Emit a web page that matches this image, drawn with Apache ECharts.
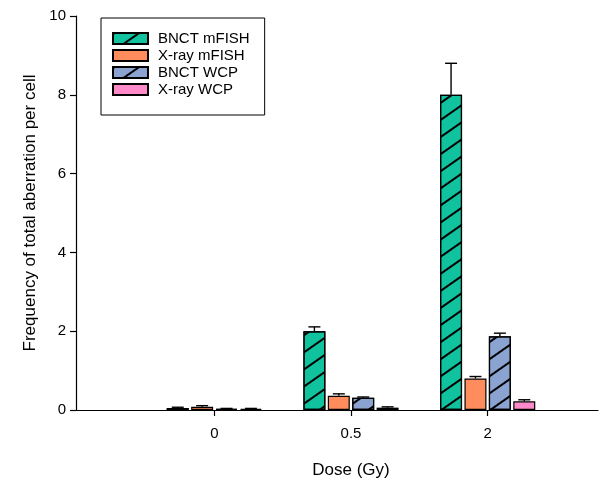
<!DOCTYPE html>
<html>
<head>
<meta charset="utf-8">
<script src="https://cdn.jsdelivr.net/npm/echarts@6/dist/echarts.min.js"></script>
<style>
  html, body { margin: 0; padding: 0; background: #fff; }
  #main { width: 614px; height: 480px; }
</style>
</head>
<body>
<div id="main"></div>
<script>
var doses = ['0', '0.5', '2'];
var seriesNames = ['BNCT mFISH', 'X-ray mFISH', 'BNCT WCP', 'X-ray WCP'];
var bnctMfish = [0.05, 2.0, 8.0];
var bnctMfishErr = [0.02, 0.11, 0.8];
var xrayMfish = [0.08, 0.36, 0.8];
var xrayMfishErr = [0.03, 0.05, 0.05];
var bnctWcp = [0.03, 0.31, 1.87];
var bnctWcpErr = [0.01, 0.02, 0.08];
var xrayWcp = [0.03, 0.06, 0.22];
var xrayWcpErr = [0.01, 0.02, 0.04];
var yTicks = [0, 2, 4, 6, 8, 10];

var values = [bnctMfish, xrayMfish, bnctWcp, xrayWcp];
var errors = [bnctMfishErr, xrayMfishErr, bnctWcpErr, xrayWcpErr];
var colors = ['#10c29e', '#ff8c5c', '#8aa3d1', '#ff8ac9'];
var hatched = [true, false, true, false];

var font = 'Arial, "Liberation Sans", sans-serif';
var barW = 22;
var barGapPx = 2.4;

var hatch = {
    symbol: 'rect',
    symbolSize: 1,
    color: '#000',
    dashArrayX: [1, 0],
    dashArrayY: [1.6, 12],
    rotation: -Math.PI * 35 / 180
};

var myChart = echarts.init(document.getElementById('main'), null, { renderer: 'canvas' });

var series = [];
values.forEach(function (vals, k) {
    var style = { color: colors[k], borderColor: '#000', borderWidth: 1.2 };
    if (hatched[k]) style.decal = hatch;
    series.push({
        name: seriesNames[k],
        type: 'bar',
        xAxisIndex: 1,
        yAxisIndex: 1,
        barWidth: barW,
        barGap: (barGapPx / barW * 100) + '%',
        itemStyle: style,
        data: vals
    });
});

// error bars (upper only)
var errData = [];
values.forEach(function (vals, k) {
    vals.forEach(function (v, i) {
        errData.push([i, v, errors[k][i], k]);
    });
});
series.push({
    type: 'custom',
    xAxisIndex: 1,
    yAxisIndex: 1,
    data: errData,
    z: 3,
    renderItem: function (params, api) {
        var k = api.value(3);
        var off = (k - 1.5) * (barW + barGapPx);
        var base = api.coord([api.value(0), api.value(1)]);
        var top = api.coord([api.value(0), api.value(1) + api.value(2)]);
        var x = base[0] + off;
        var st = { stroke: '#000', lineWidth: 1.4 };
        return {
            type: 'group',
            children: [
                { type: 'line', shape: { x1: x, y1: base[1], x2: x, y2: top[1] }, style: st },
                { type: 'line', shape: { x1: x - 6, y1: top[1], x2: x + 6, y2: top[1] }, style: st }
            ]
        };
    }
});

var option = {
    backgroundColor: '#fff',
    animation: false,
    legend: {
        orient: 'vertical',
        left: 101,
        top: 18,
        padding: [13, 15, 18, 11],
        icon: 'rect',
        itemWidth: 35,
        itemHeight: 11,
        itemGap: 2,
        borderColor: '#000',
        borderWidth: 1,
        borderRadius: 0,
        textStyle: { fontFamily: font, fontSize: 15, color: '#000', padding: [0, 0, 0, 5] },
        data: seriesNames
    },
    grid: [
        { left: 76, right: 16, top: 16, bottom: 70, outerBoundsMode: 'none' },
        { left: 146, right: 58, top: 16, bottom: 70, outerBoundsMode: 'none' }
    ],
    xAxis: [
        {
            gridIndex: 0,
            type: 'value',
            min: 0,
            max: 1,
            axisLine: { show: true, lineStyle: { color: '#000', width: 1.2 } },
            axisTick: { show: false },
            axisLabel: { show: false },
            splitLine: { show: false }
        },
        {
            gridIndex: 1,
            type: 'category',
            data: doses,
            axisLine: { show: false },
            axisTick: { show: true, alignWithLabel: true, length: 6, lineStyle: { color: '#000', width: 1.2 } },
            axisLabel: { fontFamily: font, fontSize: 15, color: '#000', margin: 16 },
            name: 'Dose (Gy)',
            nameLocation: 'middle',
            nameGap: 52,
            nameTextStyle: { fontFamily: font, fontSize: 17, color: '#000' }
        }
    ],
    yAxis: [
        {
            gridIndex: 0,
            type: 'value',
            min: 0,
            max: 10,
            interval: 2,
            axisLine: { show: true, lineStyle: { color: '#000', width: 1.2 } },
            axisTick: { show: true, length: 6, lineStyle: { color: '#000', width: 1.2 } },
            axisLabel: { fontFamily: font, fontSize: 15, color: '#000', margin: 10,
                formatter: function (v) { return yTicks.indexOf(v) >= 0 ? String(v) : ''; } },
            splitLine: { show: false },
            name: 'Frequency of total aberration per cell',
            nameLocation: 'middle',
            nameGap: 36,
            nameTextStyle: { fontFamily: font, fontSize: 17, color: '#000' }
        },
        {
            gridIndex: 1,
            type: 'value',
            min: 0,
            max: 10,
            show: false
        }
    ],
    series: series
};
myChart.setOption(option);
</script>
</body>
</html>
